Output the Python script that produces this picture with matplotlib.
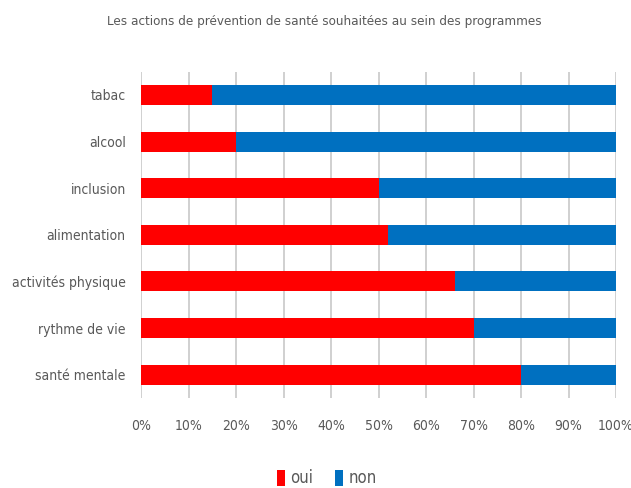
import matplotlib.pyplot as plt
from matplotlib.ticker import PercentFormatter

plt.rcParams['font.family'] = ['DejaVu Sans']
plt.rcParams['font.stretch'] = 'condensed'

categories = ["santé mentale", "rythme de vie", "activités physique", "alimentation",
              "inclusion", "alcool", "tabac"]
oui = [80, 70, 66, 52, 50, 20, 15]
non = [100 - v for v in oui]

text_color = "#595959"
fig = plt.figure(figsize=(6.31, 4.88), dpi=100)
ax = fig.add_axes([141 / 631, 1 - 398 / 488, 475 / 631, (398 - 71.6) / 488])

y = range(len(categories))
ax.barh(y, oui, height=0.43, color="#FF0000", label="oui", zorder=3)
ax.barh(y, non, left=oui, height=0.43, color="#0070C0", label="non", zorder=3)

ax.set_xlim(0, 100)
ax.set_ylim(-0.5, len(categories) - 0.5)
ax.set_xticks(range(0, 101, 10))
ax.xaxis.set_major_formatter(PercentFormatter(decimals=0))
ax.set_yticks(list(y))
ax.set_yticklabels(categories)
ax.grid(axis="x", color="#c8c8c8", linewidth=1.2, zorder=0)
for s in ax.spines.values():
    s.set_visible(False)
ax.tick_params(axis="both", length=0, labelsize=10, colors=text_color)
ax.tick_params(axis="x", pad=15)
ax.tick_params(axis="y", pad=11)

fig.suptitle("Les actions de prévention de santé souhaitées au sein des programmes",
             x=0.514, y=0.97, fontsize=9.6, color=text_color)

fig.legend(loc="center", bbox_to_anchor=(0.518, 0.02), ncol=2, frameon=False,
           fontsize=12, handlelength=0.45, handleheight=1.1, columnspacing=1.3,
           handletextpad=0.35, labelcolor=text_color)

fig.savefig("out.png", dpi=100)
